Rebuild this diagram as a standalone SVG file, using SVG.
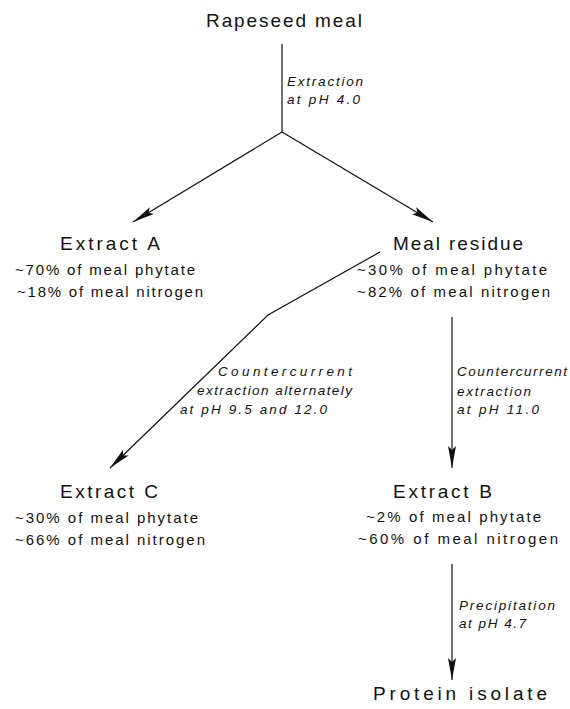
<svg xmlns="http://www.w3.org/2000/svg" width="570" height="709" viewBox="0 0 570 709">
<defs>
<style>
.t{font-family:"Liberation Sans","DejaVu Sans",sans-serif;fill:#111;}
.big{font-size:19px;}
.sub{font-size:15px;}
.lab{font-size:13.5px;font-style:italic;}
.ln{stroke:#111;stroke-width:1.2;fill:none;}
</style>
<marker id="ah" markerUnits="userSpaceOnUse" markerWidth="26" markerHeight="12" viewBox="-24 -6 26 12" refX="0" refY="0" orient="auto">
<path d="M0,0 L-22,-4 L-18,0 L-22,4 Z" fill="#111"/>
</marker>
</defs>
<rect width="570" height="709" fill="#fff"/>
<g id="connectors">
<line class="ln" x1="282" y1="44" x2="282" y2="132"/>
<line class="ln" x1="282" y1="132" x2="133" y2="222" marker-end="url(#ah)"/>
<line class="ln" x1="282" y1="132" x2="433" y2="222" marker-end="url(#ah)"/>
<polyline class="ln" points="380,252 268,315 110,468" marker-end="url(#ah)"/>
<line class="ln" x1="452" y1="317" x2="452" y2="468" marker-end="url(#ah)"/>
<line class="ln" x1="452" y1="564" x2="452" y2="680" marker-end="url(#ah)"/>
<text class="t lab" x="287" y="86" textLength="76" lengthAdjust="spacing">Extraction</text>
<text class="t lab" x="287" y="104" textLength="73" lengthAdjust="spacing">at pH 4.0</text>
<text class="t lab" x="218" y="376" textLength="134" lengthAdjust="spacing">Countercurrent</text>
<text class="t lab" x="197" y="395" textLength="155" lengthAdjust="spacing">extraction alternately</text>
<text class="t lab" x="180" y="414" textLength="147" lengthAdjust="spacing">at pH 9.5 and 12.0</text>
<text class="t lab" x="457" y="376" textLength="110" lengthAdjust="spacing">Countercurrent</text>
<text class="t lab" x="457" y="396" textLength="74" lengthAdjust="spacing">extraction</text>
<text class="t lab" x="457" y="414" textLength="82" lengthAdjust="spacing">at pH 11.0</text>
<text class="t lab" x="459" y="610" textLength="96" lengthAdjust="spacing">Precipitation</text>
<text class="t lab" x="459" y="628" textLength="67" lengthAdjust="spacing">at pH 4.7</text>
</g>
<g id="rapeseed">
<text class="t big" x="206" y="27" textLength="156" lengthAdjust="spacing">Rapeseed meal</text>
</g>
<g id="extractA">
<text class="t big" x="60" y="250" textLength="100" lengthAdjust="spacing">Extract A</text>
<text class="t sub" x="15" y="275" textLength="180" lengthAdjust="spacing">~70% of meal phytate</text>
<text class="t sub" x="17" y="297" textLength="186" lengthAdjust="spacing">~18% of meal nitrogen</text>
</g>
<g id="mealResidue">
<text class="t big" x="393" y="250" textLength="130" lengthAdjust="spacing">Meal residue</text>
<text class="t sub" x="357" y="275" textLength="190" lengthAdjust="spacing">~30% of meal phytate</text>
<text class="t sub" x="357" y="297" textLength="193" lengthAdjust="spacing">~82% of meal nitrogen</text>
</g>
<g id="extractC">
<text class="t big" x="60" y="498" textLength="98" lengthAdjust="spacing">Extract C</text>
<text class="t sub" x="15" y="523" textLength="183" lengthAdjust="spacing">~30% of meal phytate</text>
<text class="t sub" x="15" y="545" textLength="190" lengthAdjust="spacing">~66% of meal nitrogen</text>
</g>
<g id="extractB">
<text class="t big" x="393" y="498" textLength="99" lengthAdjust="spacing">Extract B</text>
<text class="t sub" x="366" y="522" textLength="175" lengthAdjust="spacing">~2% of meal phytate</text>
<text class="t sub" x="358" y="544" textLength="200" lengthAdjust="spacing">~60% of meal nitrogen</text>
</g>
<g id="protein">
<text class="t big" x="373" y="700" textLength="174" lengthAdjust="spacing">Protein isolate</text>
</g>
</svg>
